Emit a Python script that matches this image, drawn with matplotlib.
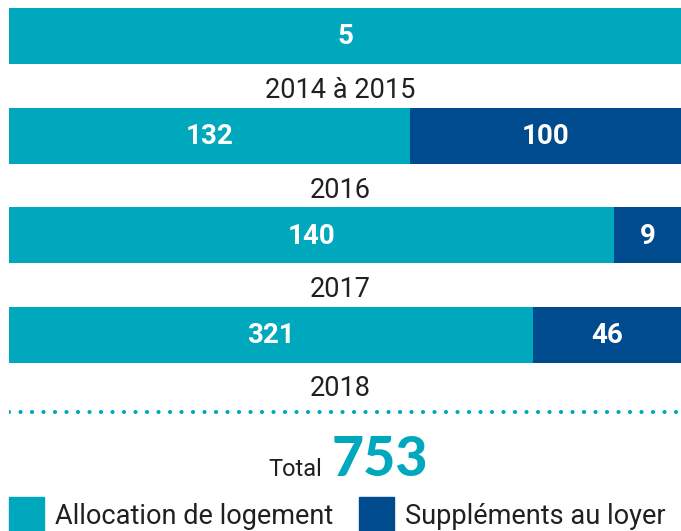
import numpy as np
import matplotlib.pyplot as plt
from matplotlib.patches import Rectangle

# Data
periods = ["2014 à 2015", "2016", "2017", "2018"]
allocation = [5, 132, 140, 321]
supplements = [0, 100, 9, 46]
# share of each bar taken by the first segment (as drawn in the source graphic)
allocation_share = [1.0, 0.597, 0.900, 0.780]
total = 753
series_names = ["Allocation de logement", "Suppléments au loyer"]

teal = "#00A8BD"
navy = "#004B8D"
dark = "#231F20"
narrow = ["Roboto", "DejaVu Sans"]

fig = plt.figure(figsize=(6.81, 5.31), dpi=100)

# bars axis: x in shares (0..1), y in pixel rows from the top
ax = fig.add_axes([9 / 681, 0, 672 / 681, 1])
ax.set_xlim(0, 1)
ax.set_ylim(531, 0)
ax.axis("off")

bar_y = 36 + 99.5 * np.arange(len(periods))
left = np.array(allocation_share)
right = 1 - left
ax.barh(bar_y, left, height=56, color=teal)
ax.barh(bar_y, right, left=left, height=56, color=navy)

for y, a, s, l, p in zip(bar_y, allocation, supplements, left, periods):
    ax.text(l / 2, y + 1, str(a), ha="center", va="center", color="white",
            fontsize=20, fontweight="bold", family=narrow)
    if s:
        ax.text(l + (1 - l) / 2, y + 1, str(s), ha="center", va="center",
                color="white", fontsize=20, fontweight="bold", family=narrow)
    ax.text(0.5 - 9 / 672 / 2, y + 62, p, ha="center", va="baseline",
            color=dark, fontsize=19.5, family=narrow)

# dotted separator
ax.plot([0, 0.995], [412, 412], color=teal, linewidth=3,
        linestyle=(0, (0.01, 2.75)), dash_capstyle="round")

# total
fig.text(322 / 681, 1 - 476 / 531, "Total", ha="right", va="baseline",
         color=dark, fontsize=17, family=narrow)
fig.text(332 / 681, 1 - 476 / 531, str(total), ha="left", va="baseline",
         color=teal, fontsize=40, fontweight="black", family=["Lato", "DejaVu Sans"])

# legend
for x0, c, name in [(9, teal, series_names[0]), (359, navy, series_names[1])]:
    fig.patches.append(Rectangle((x0 / 681, 0), 35 / 681, 34 / 531,
                                 transform=fig.transFigure, color=c))
    fig.text((x0 + 46) / 681, 1 - 524 / 531, name, ha="left", va="baseline",
             color=dark, fontsize=19.5, family=narrow)

fig.savefig("out.png", dpi=100)
